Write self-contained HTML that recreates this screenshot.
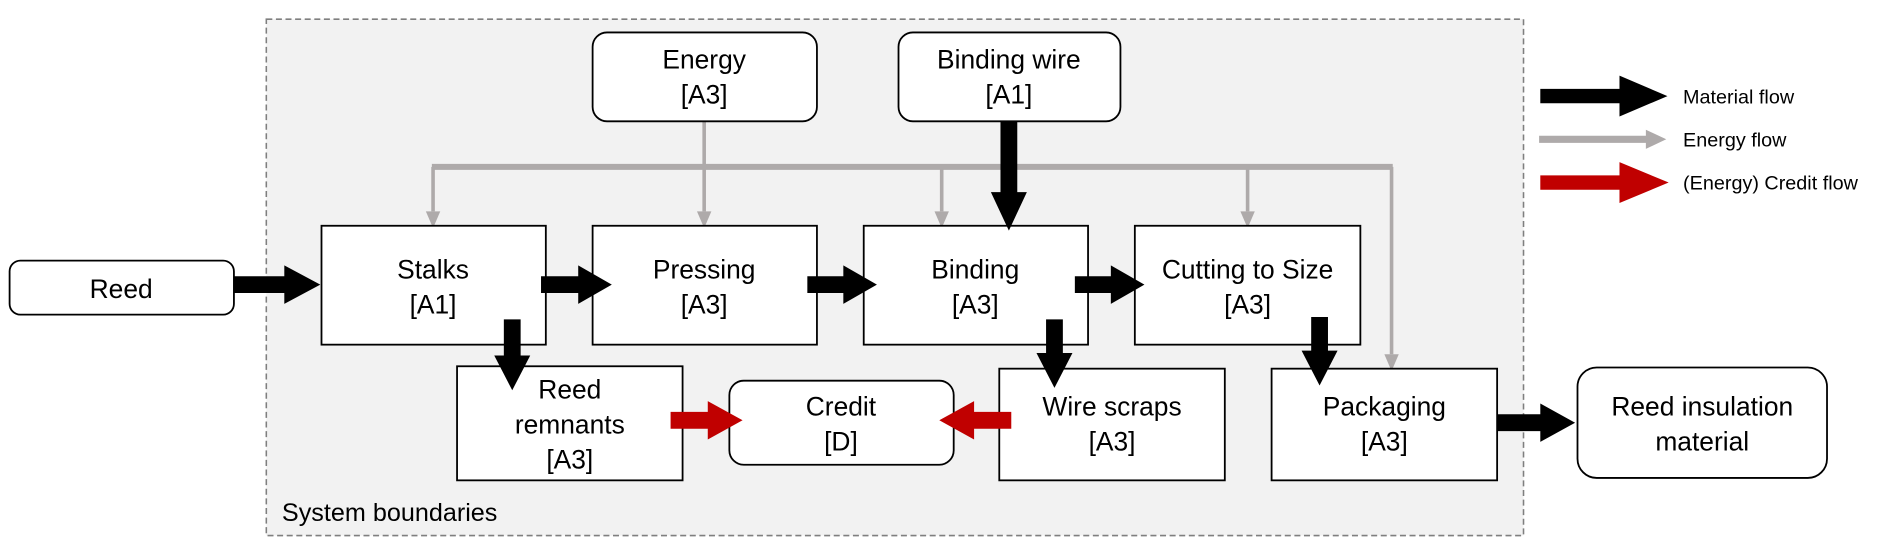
<!DOCTYPE html>
<html><head><meta charset="utf-8"><style>
html,body{margin:0;padding:0;background:#fff;}
svg{display:block;}
text{font-family:"Liberation Sans",Arial,sans-serif;fill:#000;}
</style></head><body>
<svg width="1881" height="550" viewBox="0 0 1568 458" preserveAspectRatio="none" xmlns="http://www.w3.org/2000/svg">
<rect x="222" y="16" width="1048" height="430" fill="#f2f2f2" stroke="#7f7f7f" stroke-width="1.3" stroke-dasharray="5,3"/>
<g fill="none" stroke="#aeaaaa" stroke-width="3">
<line x1="360" y1="139" x2="1161" y2="139" stroke-width="5"/>
<line x1="361" y1="139" x2="361" y2="176"/>
<line x1="587" y1="101" x2="587" y2="176"/>
<line x1="785" y1="139" x2="785" y2="176"/>
<line x1="1040" y1="139" x2="1040" y2="176"/>
<line x1="1160" y1="139" x2="1160" y2="295"/>
</g>
<g fill="#aeaaaa">
<polygon points="355,176 367,176 361,190"/>
<polygon points="581,176 593,176 587,190"/>
<polygon points="779,176 791,176 785,190"/>
<polygon points="1034,176 1046,176 1040,190"/>
<polygon points="1154,295 1166,295 1160,309"/>
</g>
<g fill="#fff" stroke="#000" stroke-width="1.5">
<rect x="494" y="27" width="187" height="74" rx="12"/>
<rect x="749" y="27" width="185" height="74" rx="12"/>
<rect x="8" y="217" width="187" height="45" rx="9"/>
<rect x="268" y="188" width="187" height="99"/>
<rect x="494" y="188" width="187" height="99"/>
<rect x="720" y="188" width="187" height="99"/>
<rect x="946" y="188" width="188" height="99"/>
<rect x="381" y="305" width="188" height="95"/>
<rect x="608" y="317" width="187" height="70" rx="12"/>
<rect x="833" y="307" width="188" height="93"/>
<rect x="1060" y="307" width="188" height="93"/>
<rect x="1315" y="306" width="208" height="92" rx="16"/>
</g>
<g fill="#000">
<polygon points="195,230 237,230 237,221 267,237 237,253 237,244 195,244"/>
<polygon points="451,230 482,230 482,221 510,237 482,253 482,244 451,244"/>
<polygon points="673,230 703,230 703,221 731,237 703,253 703,244 673,244"/>
<polygon points="896,230 926,230 926,221 954,237 926,253 926,244 896,244"/>
<polygon points="1248,345 1284,345 1284,336 1313,352 1284,368 1284,359 1248,359"/>
<polygon points="420,266 434,266 434,296 442,296 427,325 412,296 420,296"/>
<polygon points="834,101 848,101 848,160 856,160 841,192 826,160 834,160"/>
<polygon points="872,266 886,266 886,294 894,294 879,323 864,294 872,294"/>
<polygon points="1093,264 1107,264 1107,292 1115,292 1100,321 1085,292 1093,292"/>
<polygon points="1284,74 1350,74 1350,63 1390,80 1350,97 1350,86 1284,86"/>
</g>
<polygon points="1283,113 1372,113 1372,108 1389,116 1372,124 1372,119 1283,119" fill="#aeaaaa"/>
<g fill="#c00000">
<polygon points="1284,146 1350,146 1350,135 1391,152 1350,169 1350,158 1284,158"/>
<polygon points="559,343 590,343 590,334 619,350 590,366 590,357 559,357"/>
<polygon points="843,343 812,343 812,334 783,350 812,366 812,357 843,357"/>
</g>
<g font-size="22" text-anchor="middle">
<text x="587" y="57">Energy</text><text x="587" y="86">[A3]</text>
<text x="841" y="57">Binding wire</text><text x="841" y="86">[A1]</text>
<text x="101" y="248">Reed</text>
<text x="361" y="232">Stalks</text><text x="361" y="261">[A1]</text>
<text x="587" y="232">Pressing</text><text x="587" y="261">[A3]</text>
<text x="813" y="232">Binding</text><text x="813" y="261">[A3]</text>
<text x="1040" y="232">Cutting to Size</text><text x="1040" y="261">[A3]</text>
<text x="475" y="332">Reed</text><text x="475" y="361">remnants</text><text x="475" y="390">[A3]</text>
<text x="701" y="346">Credit</text><text x="701" y="375">[D]</text>
<text x="927" y="346">Wire scraps</text><text x="927" y="375">[A3]</text>
<text x="1154" y="346">Packaging</text><text x="1154" y="375">[A3]</text>
<text x="1419" y="346">Reed insulation</text><text x="1419" y="375">material</text>
</g>
<text x="235" y="434" font-size="21">System boundaries</text>
<g font-size="16.5">
<text x="1403" y="86">Material flow</text>
<text x="1403" y="122">Energy flow</text>
<text x="1403" y="158">(Energy) Credit flow</text>
</g>
</svg>
</body></html>
